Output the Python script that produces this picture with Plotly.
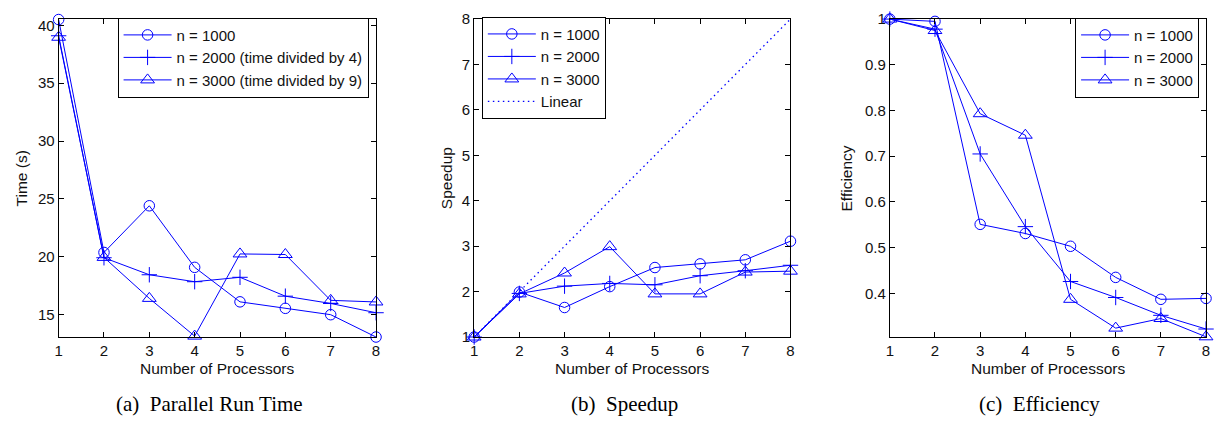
import plotly.graph_objects as go

W, H = 1215, 431

procs = [1, 2, 3, 4, 5, 6, 7, 8]

time_n1000 = [40.5, 20.38, 24.41, 19.09, 16.11, 15.55, 15.0, 13.07]
time_n2000 = [39.1, 19.92, 18.45, 17.85, 18.23, 16.6, 15.97, 15.17]
time_n3000 = [38.97, 19.95, 16.41, 13.15, 20.25, 20.2, 16.24, 16.1]

speedup_n1000 = [1, 1.99, 1.65, 2.11, 2.53, 2.61, 2.70, 3.11]
speedup_n2000 = [1, 1.96, 2.12, 2.18, 2.15, 2.35, 2.46, 2.58]
speedup_n3000 = [1, 1.95, 2.41, 2.99, 1.95, 1.95, 2.43, 2.45]
speedup_linear = [1, 2, 3, 4, 5, 6, 7, 8]

eff_n1000 = [1, 0.995, 0.551, 0.531, 0.503, 0.435, 0.387, 0.389]
eff_n2000 = [1, 0.978, 0.705, 0.546, 0.426, 0.391, 0.352, 0.322]
eff_n3000 = [1, 0.975, 0.793, 0.746, 0.387, 0.324, 0.345, 0.305]

legend_a = ["n = 1000", "n = 2000 (time divided by 4)", "n = 3000 (time divided by 9)"]
legend_bc = ["n = 1000", "n = 2000", "n = 3000"]

captions = ["(a)\u00a0\u00a0Parallel Run Time", "(b)\u00a0\u00a0Speedup", "(c)\u00a0\u00a0Efficiency"]
ytitles = ["Time (s)", "Speedup", "Efficiency"]
xtitle = "Number of Processors"

BLUE = "#0000ff"
SANS = "Liberation Sans, Arial, sans-serif"
SERIF = "Liberation Serif, Times New Roman, serif"

def px(x):
    return x / W

def py(y):
    return 1 - y / H

# plot boxes in pixels (left, right, top, bottom)
boxes = [(55, 374.5, 10.5, 341.5), (473.3, 791.7, 10.5, 341.5), (891.7, 1210, 10.5, 341.5)]
ytitle_x = [17.5, 445, 848]

symbols = ["circle-open", "cross-thin-open", "triangle-up-open"]
sizes = [10.5, 11, 12]

fig = go.Figure()

panels = [
    ([time_n1000, time_n2000, time_n3000], legend_a, "legend"),
    ([speedup_n1000, speedup_n2000, speedup_n3000], legend_bc, "legend2"),
    ([eff_n1000, eff_n2000, eff_n3000], legend_bc, "legend3"),
]

for i, (series, names, leg) in enumerate(panels):
    xa = "x" if i == 0 else f"x{i+1}"
    ya = "y" if i == 0 else f"y{i+1}"
    for s, name, sym, sz in zip(series, names, symbols, sizes):
        fig.add_trace(go.Scatter(
            x=procs, y=s, name=name, mode="lines+markers",
            line=dict(color=BLUE, width=1),
            marker=dict(symbol=sym, size=sz, color=BLUE, line=dict(color=BLUE, width=1)),
            xaxis=xa, yaxis=ya, legend=leg, cliponaxis=False,
        ))
    if i == 1:
        fig.add_trace(go.Scatter(
            x=procs, y=speedup_linear, name="Linear", mode="lines",
            line=dict(color=BLUE, width=1.3, dash="1.5px,3.5px"),
            xaxis=xa, yaxis=ya, legend=leg, cliponaxis=False,
        ))

axis_common = dict(
    showline=True, linecolor="black", linewidth=1, mirror="ticks",
    ticks="inside", ticklen=5, tickcolor="black", tickwidth=1,
    showgrid=False, zeroline=False,
    tickfont=dict(family=SANS, size=15, color="#111"),
)

yranges = [[13.07, 40.54], [1, 8], [0.3045, 1.0]]
ytickvals = [[15, 20, 25, 30, 35, 40], [1, 2, 3, 4, 5, 6, 7, 8], [0.4, 0.5, 0.6, 0.7, 0.8, 0.9, 1.0]]
yticktext = [["15", "20", "25", "30", "35", "40"], ["1", "2", "3", "4", "5", "6", "7", "8"],
             ["0.4", "0.5", "0.6", "0.7", "0.8", "0.9", "1"]]

layout = dict(
    width=W, height=H, margin=dict(l=0, r=0, t=0, b=0),
    paper_bgcolor="white", plot_bgcolor="white",
    showlegend=True,
)
annotations = []
for i, (l, r, t, b) in enumerate(boxes):
    sx = "" if i == 0 else str(i + 1)
    layout[f"xaxis{sx}"] = dict(
        domain=[px(l), px(r)], range=[1, 8], tickvals=procs,
        ticktext=[str(p) for p in procs],
        anchor=f"y{sx}", **axis_common)
    layout[f"yaxis{sx}"] = dict(
        domain=[py(b), py(t)], range=yranges[i], tickvals=ytickvals[i],
        ticktext=yticktext[i], anchor=f"x{sx}", **axis_common)
    cx = (l + r) / 2
    annotations.append(dict(x=px(cx), y=py(374), xref="paper", yref="paper",
                            text=xtitle, showarrow=False, xanchor="center", yanchor="middle",
                            font=dict(family=SANS, size=15.5, color="#111")))
    annotations.append(dict(x=px(ytitle_x[i]), y=py((t + b) / 2), xref="paper", yref="paper",
                            text=ytitles[i], showarrow=False, textangle=-90,
                            xanchor="center", yanchor="middle",
                            font=dict(family=SANS, size=15.5, color="#111")))

caption_x = [207, 625, 1042]
for cx, cap in zip(caption_x, captions):
    annotations.append(dict(x=px(cx), y=py(411), xref="paper", yref="paper",
                            text=cap, showarrow=False, xanchor="center", yanchor="middle",
                            font=dict(family=SERIF, size=21, color="black")))
layout["annotations"] = annotations

leg_common = dict(bgcolor="white", bordercolor="black", borderwidth=1,
                  font=dict(family=SANS, size=15, color="#111"),
                  yanchor="top", itemwidth=48, tracegroupgap=0)
layout["legend"] = dict(x=px(367), xanchor="right", y=py(9), **leg_common)
layout["legend2"] = dict(x=px(481), xanchor="left", y=py(8), **leg_common)
layout["legend3"] = dict(x=px(1203), xanchor="right", y=py(9), **leg_common)

fig.update_layout(**layout)
fig.write_html("out.html")
